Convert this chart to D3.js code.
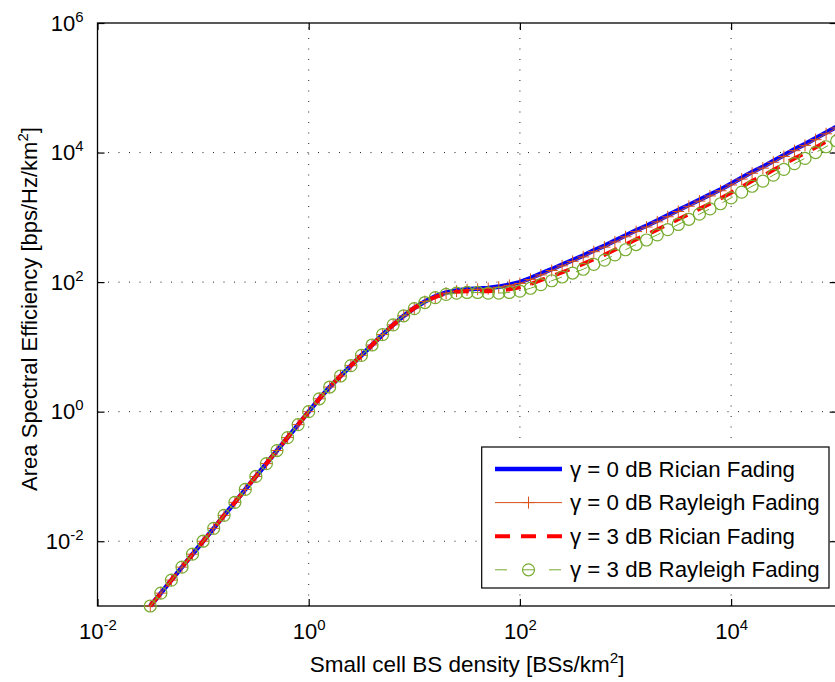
<!DOCTYPE html>
<html>
<head>
<meta charset="utf-8">
<script src="https://cdn.jsdelivr.net/npm/d3@7"></script>
<style>
  body { margin: 0; background: #fff; }
  svg  { display: block; font-family: "Liberation Sans", Arial, sans-serif; }
</style>
</head>
<body>
<svg id="chart" width="835" height="682"></svg>
<script>
// Small cell BS density [BSs/km^2], one point every 0.1 decade
var density = [0.0316, 0.0398, 0.0501, 0.0631, 0.0794,
  0.1, 0.126, 0.158, 0.2, 0.251, 0.316, 0.398, 0.501, 0.631, 0.794,
  1, 1.26, 1.58, 2.0, 2.51, 3.16, 3.98, 5.01, 6.31, 7.94,
  10, 12.6, 15.8, 20, 25.1, 31.6, 39.8, 50.1, 63.1, 79.4,
  100, 126, 158, 200, 251, 316, 398, 501, 631, 794,
  1000, 1260, 1580, 2000, 2510, 3160, 3980, 5010, 6310, 7940,
  10000, 12600, 15800, 20000, 25100, 31600, 39800, 50100, 63100, 79400,
  100000]

// Area spectral efficiency [bps/Hz/km^2]
var aseRician0 = [0.001, 0.00158, 0.00251, 0.00398, 0.00631, 0.01, 0.0158, 0.0251, 0.0398, 0.0631,
  0.1, 0.158, 0.251, 0.398, 0.631, 1, 1.58, 2.40, 3.55, 5.13, 7.41, 10.7, 15.5, 21.9, 30.2, 39.8,
  50.1, 60.3, 69.2, 74.1, 77.6, 79.4, 81.3, 85.1, 91.2, 100,
  115, 135, 158, 186, 219, 257, 309, 363, 437, 525,
  631, 741, 891, 1070, 1290, 1550, 1860, 2240, 2690, 3310,
  4070, 5010, 6030, 7410, 9120, 11200, 13500, 16600, 20400, 25100]

var aseRayleigh0 = [0.001, 0.00158, 0.00251, 0.00398, 0.00631, 0.01, 0.0158, 0.0251, 0.0398, 0.0631,
  0.1, 0.158, 0.251, 0.398, 0.631, 1, 1.58, 2.40, 3.55, 5.13, 7.41, 10.7, 15.5, 21.9, 30.2, 39.8,
  50.1, 58.9, 67.6, 72.4, 75.9, 77.6, 79.4, 83.2, 89.1, 95.5,
  110, 129, 151, 178, 209, 245, 295, 347, 417, 501,
  603, 708, 851, 1020, 1230, 1480, 1780, 2140, 2570, 3160,
  3890, 4790, 5750, 7080, 8710, 10700, 12900, 15800, 19500, 24000]

var aseRician3 = [0.001, 0.00158, 0.00251, 0.00398, 0.00631, 0.01, 0.0158, 0.0251, 0.0398, 0.0631,
  0.1, 0.158, 0.251, 0.398, 0.631, 1, 1.58, 2.40, 3.55, 5.13, 7.41, 10.7, 15.5, 21.9, 30.2, 39.8,
  50.1, 58.9, 66.8, 70.8, 72.4, 72.4, 72.4, 74.1, 77.6, 83.2,
  93.3, 107, 123, 141, 164, 191, 226, 263, 316, 380,
  457, 537, 646, 776, 933, 1120, 1350, 1620, 1950, 2400,
  2950, 3630, 4370, 5370, 6610, 8130, 9770, 12000, 14800, 18200]

var aseRayleigh3 = [0.001, 0.00158, 0.00251, 0.00398, 0.00631, 0.01, 0.0158, 0.0251, 0.0398, 0.0631,
  0.1, 0.158, 0.251, 0.398, 0.631, 1, 1.58, 2.40, 3.55, 5.13, 7.41, 10.7, 15.5, 21.9, 30.2,
  38.9, 48.4, 57.5, 64.6, 67.6, 69.2, 69.2, 67.6, 67.6, 69.2, 72.4,
  80.4, 91.2, 105, 120, 138, 158, 188, 219, 263, 316,
  380, 447, 537, 646, 776, 933, 1120, 1350, 1620, 1995,
  2450, 3020, 3630, 4470, 5500, 6760, 8130, 10000, 12300, 15100]

var seriesNames = ["γ = 0 dB Rician Fading", "γ = 0 dB Rayleigh Fading",
                   "γ = 3 dB Rician Fading", "γ = 3 dB Rayleigh Fading"]
var xTicks = [1e-2, 1e0, 1e2, 1e4]
var yTicks = [1e-2, 1e0, 1e2, 1e4, 1e6]

// Plot box edges in px (window.top is reserved, so prefix names)
var pLeft   = 97.5,
    pRight  = 836.7,
    pTop    = 23,
    pBottom = 606,
    tick    = 7,
    svg     = d3.select("#chart")

var xScale = d3.scaleLog().domain([1e-2, 1e5]).range([pLeft, pRight]),
    yScale = d3.scaleLog().domain([1e-3, 1e6]).range([pBottom, pTop])

// Dotted grid
var grid = svg.append("g").attr("class", "grid")
              .attr("stroke", "#222").attr("stroke-width", 1).attr("stroke-dasharray", "1,9.5")
grid.selectAll("line.gx")
    .data(xTicks.filter(function (d) { return d > 1e-2 }))
    .enter().append("line")
      .attr("x1", function (d) { return xScale(d) })
      .attr("x2", function (d) { return xScale(d) })
      .attr("y1", pBottom).attr("y2", pTop)
grid.selectAll("line.gy")
    .data(yTicks.filter(function (d) { return d < 1e6 }))
    .enter().append("line")
      .attr("y1", function (d) { return yScale(d) })
      .attr("y2", function (d) { return yScale(d) })
      .attr("x1", pLeft).attr("x2", pRight)

// Power-of-ten labels with superscript exponent
var powLabel = function (sel) {
  sel.each(function (d) {
    var t = d3.select(this).text("10")
    t.append("tspan")
     .attr("dy", "-0.6em")
     .attr("font-size", "0.68em")
     .text(Math.round(Math.log10(d)))
  })
}

// Axes (ticks point inwards, box on)
var xAxis = svg.append("g")
               .attr("transform", "translate(0," + pBottom + ")")
               .call(d3.axisBottom(xScale).tickValues(xTicks).tickSize(-tick).tickSizeOuter(0).tickPadding(17))
var yAxis = svg.append("g")
               .attr("transform", "translate(" + pLeft + ",0)")
               .call(d3.axisLeft(yScale).tickValues(yTicks).tickSize(-tick).tickSizeOuter(0).tickPadding(14))
svg.append("g")
   .attr("transform", "translate(0," + pTop + ")")
   .call(d3.axisTop(xScale).tickValues(xTicks).tickSize(-tick).tickSizeOuter(0).tickFormat(""))
svg.append("g")
   .attr("transform", "translate(" + pRight + ",0)")
   .call(d3.axisRight(yScale).tickValues(yTicks).tickSize(-tick).tickSizeOuter(0).tickFormat(""))
svg.selectAll(".domain").remove()
svg.selectAll(".tick line").attr("stroke", "#000").attr("stroke-width", 1.2)

xAxis.selectAll(".tick text").attr("font-size", 22).attr("fill", "#000").call(powLabel)
yAxis.selectAll(".tick text").attr("font-size", 22).attr("fill", "#000").call(powLabel)

svg.append("rect")
   .attr("x", pLeft).attr("y", pTop)
   .attr("width", pRight - pLeft).attr("height", pBottom - pTop)
   .attr("fill", "none").attr("stroke", "#000").attr("stroke-width", 1.3)

// Axis titles
var xt = svg.append("text")
            .attr("x", (pLeft + pRight) / 2).attr("y", 672)
            .attr("text-anchor", "middle").attr("font-size", 22.5)
            .text("Small cell BS density [BSs/km")
xt.append("tspan").attr("dy", "-0.6em").attr("font-size", "0.68em").text("2")
xt.append("tspan").attr("dy", "0.41em").text("]")

var yt = svg.append("text")
            .attr("transform", "translate(37,309) rotate(-90)")
            .attr("text-anchor", "middle").attr("font-size", 22)
            .text("Area Spectral Efficiency [bps/Hz/km")
yt.append("tspan").attr("dy", "-0.6em").attr("font-size", "0.68em").text("2")
yt.append("tspan").attr("dy", "0.41em").text("]")

// Series
var series = [
  { name: seriesNames[0], vals: aseRician0,   colour: "#0000ff", width: 4.6, dash: null,    marker: null },
  { name: seriesNames[1], vals: aseRayleigh0, colour: "#d95319", width: 1,   dash: null,    marker: "plus" },
  { name: seriesNames[2], vals: aseRician3,   colour: "#ff0000", width: 4,   dash: "15,11", marker: null },
  { name: seriesNames[3], vals: aseRayleigh3, colour: "#77ac30", width: 1,   dash: "12,15", marker: "circle" }
]

var line = d3.line()
line.x(function (d) { return xScale(d[0]) })
    .y(function (d) { return yScale(d[1]) })

var drawMarker = function (g, type, colour, cx, cy) {
  if (type === "plus") {
    g.append("path")
     .attr("d", "M" + (cx - 6) + "," + cy + "H" + (cx + 6) + "M" + cx + "," + (cy - 6) + "V" + (cy + 6))
     .attr("stroke", colour).attr("stroke-width", 1).attr("fill", "none")
  } else if (type === "circle") {
    g.append("circle")
     .attr("cx", cx).attr("cy", cy).attr("r", 6)
     .attr("stroke", colour).attr("stroke-width", 1.2).attr("fill", "none")
  }
}

series.forEach(function (s) {
  var pts = density.map(function (x, i) { return [x, s.vals[i]] }),
      g   = svg.append("g").attr("class", "series")
  g.append("path")
   .attr("d", line(pts))
   .attr("fill", "none")
   .attr("stroke", s.colour)
   .attr("stroke-width", s.width)
   .attr("stroke-dasharray", s.dash)
  if (s.marker) pts.forEach(function (p) {
    drawMarker(g, s.marker, s.colour, xScale(p[0]), yScale(p[1]))
  })
})

// Legend
var lg = svg.append("g").attr("class", "legend")
lg.append("rect")
  .attr("x", 481.7).attr("y", 447).attr("width", 347.3).attr("height", 141)
  .attr("fill", "#fff").attr("stroke", "#000").attr("stroke-width", 1.2)
series.forEach(function (s, i) {
  var ly = 469 + i * 33.6
  lg.append("line")
    .attr("x1", 495).attr("x2", 562).attr("y1", ly).attr("y2", ly)
    .attr("stroke", s.colour).attr("stroke-width", s.width)
    .attr("stroke-dasharray", s.dash)
  drawMarker(lg, s.marker, s.colour, 528.5, ly)
  lg.append("text")
    .attr("x", 570).attr("y", ly + 7.5)
    .attr("font-size", 22.3)
    .text(s.name)
})
</script>
</body>
</html>
